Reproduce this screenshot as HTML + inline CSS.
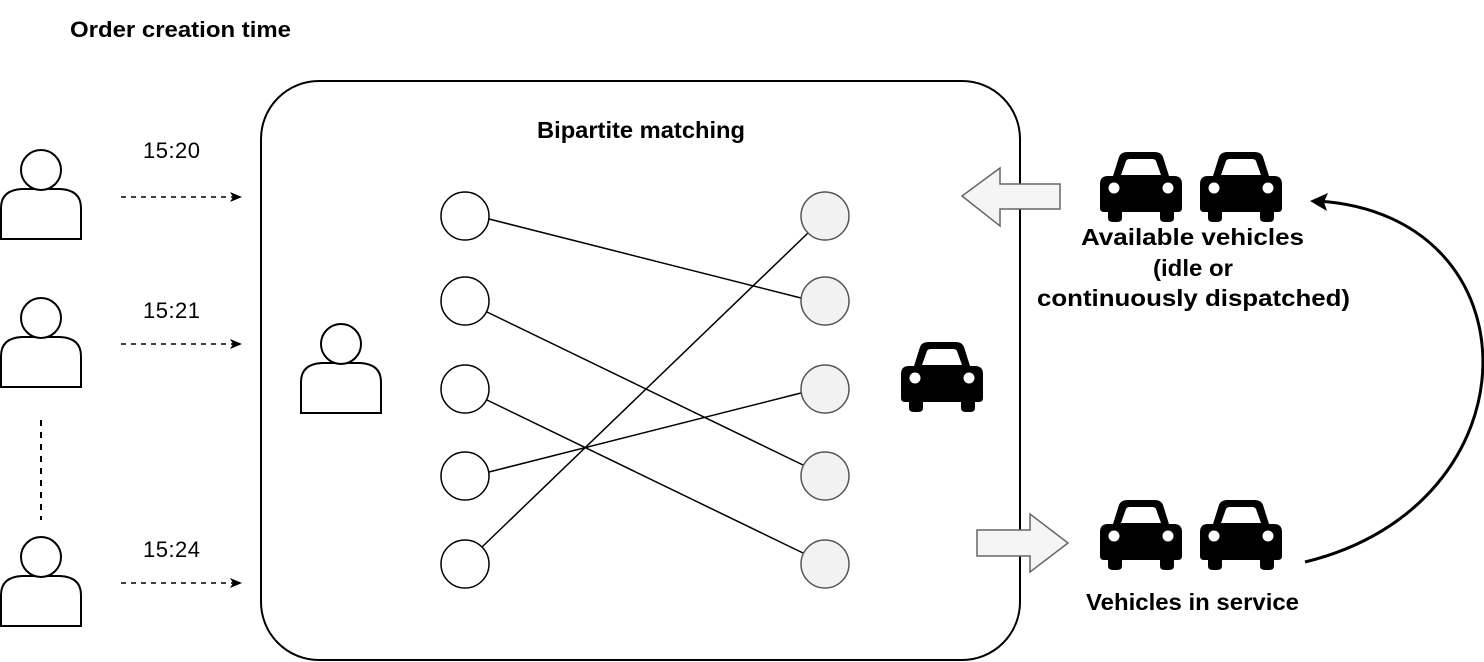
<!DOCTYPE html>
<html><head><style>body{margin:0;background:#fff}svg{display:block}</style></head><body>
<svg width="1484" height="662" viewBox="0 0 1484 662" font-family="Liberation Sans, Arial, sans-serif">
<defs>
<g id="car">
<path d="M13,24 L19,5 Q21,0 27,0 L55,0 Q61,0 63,5 L69,24 L74,24 Q82,24 82,32 L82,56 Q82,60 78,60 L74,60 L74,66 Q74,70 69,70 L65,70 Q60,70 60,66 L60,60 L22,60 L22,66 Q22,70 17,70 L13,70 Q8,70 8,66 L8,60 L4,60 Q0,60 0,56 L0,32 Q0,24 8,24 Z M21,23 L61,23 L56,9 Q55,7 52,7 L30,7 Q27,7 26,9 Z" fill="#000" fill-rule="evenodd"/>
<circle cx="14" cy="36" r="5.5" fill="#fff"/><circle cx="68" cy="36" r="5.5" fill="#fff"/>
</g>
<g id="person" fill="#fff" stroke="#000" stroke-width="2">
<path d="M1,53 L1,22 Q1,4 22,3 L60,3 Q81,4 81,22 L81,53 Z"/>
<circle cx="41" cy="-16" r="20"/>
</g>
<marker id="ah" markerWidth="12" markerHeight="10" refX="11" refY="5" orient="auto" markerUnits="userSpaceOnUse"><path d="M0,0 L12,5 L0,10 L3,5 Z" fill="#000"/></marker>
</defs>
<text x="70" y="37" font-size="22" font-weight="bold" textLength="221" lengthAdjust="spacingAndGlyphs">Order creation time</text>
<rect x="261" y="81" width="759" height="579" rx="58" fill="#fff" stroke="#000" stroke-width="2"/>
<text x="537" y="138" font-size="23" font-weight="bold" textLength="208" lengthAdjust="spacingAndGlyphs">Bipartite matching</text>
<use href="#person" x="0" y="186"/>
<use href="#person" x="0" y="334"/>
<use href="#person" x="0" y="573"/>
<use href="#person" x="300" y="360"/>
<line x1="41" y1="420" x2="41" y2="520" stroke="#000" stroke-width="2" stroke-dasharray="6,6"/>
<g stroke="#000" stroke-width="1.5" stroke-dasharray="5,5" marker-end="url(#ah)">
<line x1="121" y1="197" x2="241" y2="197"/><line x1="121" y1="344" x2="241" y2="344"/><line x1="121" y1="583" x2="241" y2="583"/>
</g>
<g font-size="22"><text x="143" y="158" textLength="57">15:20</text><text x="143" y="318" textLength="57">15:21</text><text x="143" y="557" textLength="57">15:24</text></g>
<g stroke="#000" stroke-width="1.5">
<line x1="489" y1="219" x2="801" y2="298"/>
<line x1="487" y1="312" x2="803" y2="465"/>
<line x1="487" y1="400" x2="803" y2="553"/>
<line x1="489" y1="472" x2="801" y2="393"/>
<line x1="482" y1="547" x2="808" y2="233"/>
</g>
<g fill="#fff" stroke="#000" stroke-width="1.5">
<circle cx="465" cy="216" r="24"/><circle cx="465" cy="301" r="24"/><circle cx="465" cy="389" r="24"/><circle cx="465" cy="476" r="24"/><circle cx="465" cy="564" r="24"/>
</g>
<g fill="#f2f2f2" stroke="#555" stroke-width="1.5">
<circle cx="825" cy="216" r="24"/><circle cx="825" cy="301" r="24"/><circle cx="825" cy="389" r="24"/><circle cx="825" cy="476" r="24"/><circle cx="825" cy="564" r="24"/>
</g>
<use href="#car" x="901" y="342"/>
<use href="#car" x="1100" y="152"/><use href="#car" x="1200" y="152"/>
<use href="#car" x="1100" y="500"/><use href="#car" x="1200" y="500"/>
<path d="M1060,184 L1000,184 L1000,168 L962,196 L1000,226 L1000,209 L1060,209 Z" fill="#f5f5f5" stroke="#666" stroke-width="1.5"/>
<path d="M977,530 L1030,530 L1030,514 L1068,543 L1030,572 L1030,556 L977,556 Z" fill="#f5f5f5" stroke="#666" stroke-width="1.5"/>
<path d="M1305,562 C1540,505 1540,215 1318,201" fill="none" stroke="#000" stroke-width="3"/>
<path d="M1310,201 L1328,193 L1324,202 L1327,211 Z" fill="#000"/>
<g font-size="23" font-weight="bold">
<text x="1081" y="245" textLength="223" lengthAdjust="spacingAndGlyphs">Available vehicles</text>
<text x="1153" y="276" textLength="80" lengthAdjust="spacingAndGlyphs">(idle or</text>
<text x="1037" y="306" textLength="313" lengthAdjust="spacingAndGlyphs">continuously dispatched)</text>
<text x="1086" y="610" textLength="213" lengthAdjust="spacingAndGlyphs">Vehicles in service</text>
</g>
</svg>
</body></html>
